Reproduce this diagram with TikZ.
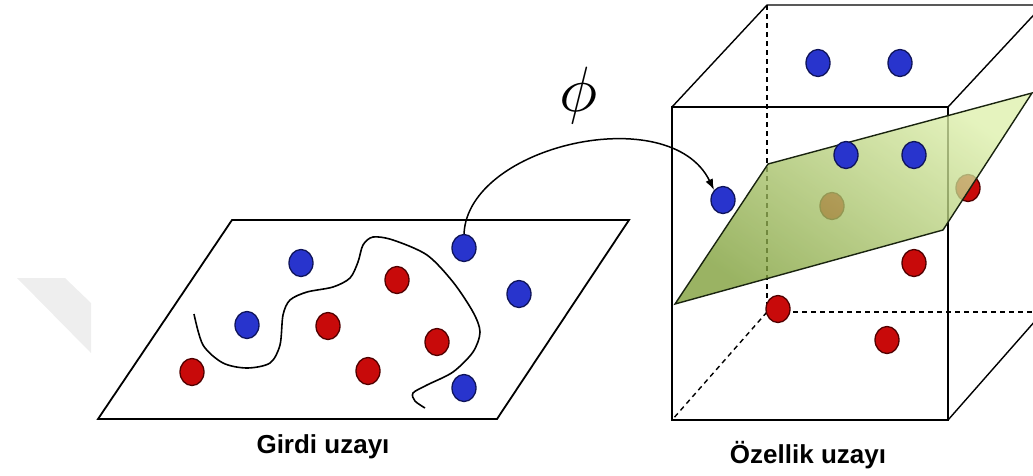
\documentclass[tikz,border=0pt]{standalone}
\usepackage{fontspec}
\setsansfont{Liberation Sans}
\usetikzlibrary{shapes.geometric,arrows.meta}
\definecolor{ballblue}{RGB}{40,52,205}
\definecolor{edgeblue}{RGB}{15,20,90}
\definecolor{ballred}{RGB}{200,10,10}
\definecolor{edgered}{RGB}{80,0,0}
\definecolor{planetop}{RGB}{222,240,172}
\definecolor{planebottom}{RGB}{125,158,55}
\definecolor{planeedge}{RGB}{25,35,15}
\definecolor{markgray}{RGB}{238,238,238}

\begin{document}
\begin{tikzpicture}
[
  x=1pt,y=-1pt,
  ball/.style={ellipse,inner sep=0pt,minimum width=24pt,minimum height=27pt,line width=1.3pt},
  blueball/.style={ball,draw=edgeblue,fill=ballblue},
  redball/.style={ball,draw=edgered,fill=ballred},
  edge/.style={line width=1.4pt},
  hidden/.style={edge,dash pattern=on 5pt off 4pt},
  caption/.style={font=\sffamily\bfseries\fontsize{26}{30}\selectfont},
]
\useasboundingbox (0,0) rectangle (1033,475);
\clip (0,0) rectangle (1033,475);

% faint mark on the left
\fill[markgray] (17,278) -- (65,278) -- (91,303) -- (91,353) -- cycle;

% input space
\draw[edge,line width=1.8pt] (232,220) -- (629,220) -- (497,419) -- (98,419) -- cycle;
\draw[edge,line width=1.6pt] plot[smooth] coordinates {(194,314) (203,345) (223,363) (247,368) (270,363) (280,345)
  (283,315) (290,300) (307,292) (333,287) (350,278) (358,262) (363,245) (373,237) (393,240)
  (427,255) (453,282) (473,312) (480,332) (473,352) (453,372) (427,385) (413,393) (415,401) (425,408)};
\node[blueball] (ib1) at (301,263) {};
\node[blueball] (ib2) at (247,325) {};
\node[blueball] (ib3) at (464,248) {};
\node[blueball] (ib4) at (519,294) {};
\node[blueball] (ib5) at (464,388) {};
\node[redball] (ir1) at (397,280) {};
\node[redball] (ir2) at (328,326) {};
\node[redball] (ir3) at (437,342) {};
\node[redball] (ir4) at (192,372) {};
\node[redball] (ir5) at (368,371) {};

% feature space cube
\coordinate (fa) at (672,107);
\coordinate (fb) at (948,107);
\coordinate (fc) at (948,420);
\coordinate (fd) at (672,420);
\coordinate (ba) at (767,5);
\coordinate (bb) at (1043,5);
\coordinate (bc) at (1043,312);
\coordinate (bd) at (767,312);
\draw[edge] (fa) rectangle (fc);
\draw[edge] (fa) -- (ba) -- (bb) -- (fb);
\draw[edge] (fc) -- (bc) -- (bb);
\draw[hidden] (ba) -- (bd) -- (bc);
\draw[hidden] (bd) -- (fd);

% points behind the plane
\node[redball] (fr1) at (968,188) {};
\node[redball] (fr2) at (832,206) {};

% separating plane
\coordinate (p1) at (675,304);
\coordinate (p2) at (768,164);
\coordinate (p3) at (1032,93);
\coordinate (p4) at (943,230);
\shade[top color=planetop,bottom color=planebottom,shading angle=-35,fill opacity=0.78] (p1) -- (p2) -- (p3) -- (p4) -- cycle;
\draw[edge,draw=planeedge] (p1) -- (p2) -- (p3) -- (p4) -- cycle;

\node[blueball] (fb1) at (818,63) {};
\node[blueball] (fb2) at (900,63) {};
\node[blueball] (fb3) at (846,155) {};
\node[blueball] (fb4) at (914,155) {};
\node[blueball] (fb5) at (723,200) {};
\node[redball] (fr3) at (914,263) {};
\node[redball] (fr4) at (778,309) {};
\node[redball] (fr5) at (887,340) {};

% mapping
\draw[edge,line width=1.5pt,-{Latex[length=11pt,width=8pt]}] (ib3.north) .. controls (468,145) and (670,100) .. (fb5.north west);
\node[scale=6.4] (phi) at (579,95) {$\phi$};

% captions
\node[caption] (inlabel) at (323,447) {Girdi uzayı};
\node[caption] (outlabel) at (808,455) {Özellik uzayı};
\end{tikzpicture}
\end{document}
